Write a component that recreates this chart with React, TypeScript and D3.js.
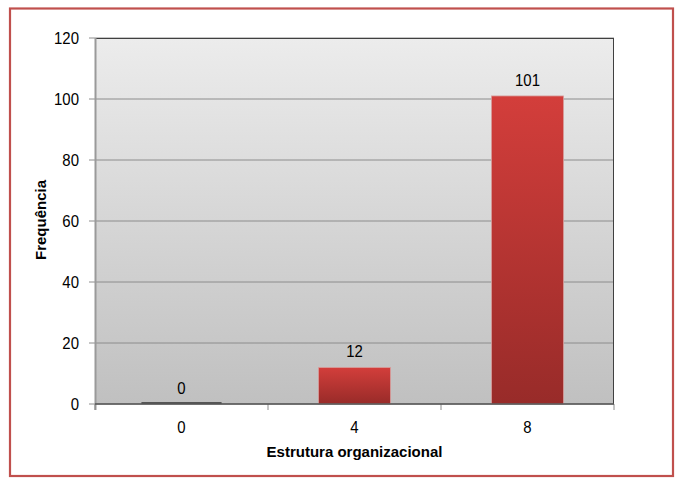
import React from "react";
import * as d3 from "d3";

const categories = ["0", "4", "8"];
const values = [0, 12, 101];
const yTicks = [0, 20, 40, 60, 80, 100, 120];
const xTitle = "Estrutura organizacional";
const yTitle = "Frequência";

const W = 676, H = 479;
const M = { left: 95, right: 62, top: 38, bottom: 75 };
const FONT = "'Liberation Sans', Arial, sans-serif";

function NText({ x, y, anchor, children }: { x: number; y: number; anchor: string; children: React.ReactNode }) {
  return (
    <g transform={`translate(${x},${y}) scale(0.88,1)`}>
      <text x={0} y={0} textAnchor={anchor} fontSize={17} fill="#000">{children}</text>
    </g>
  );
}

export default function App() {
  const x = d3.scaleBand<string>().domain(categories).range([M.left, W - M.right]).paddingInner(0.583).paddingOuter(0.2915);
  const y = d3.scaleLinear().domain([0, 120]).range([H - M.bottom, M.top]);
  const x0 = M.left, x1 = W - M.right, y0 = y(0), y1 = y(120);
  const step = x.step();
  const bounds = [x0, ...categories.map((_, i) => x0 + step * (i + 1))];
  return (
    <svg width={W} height={H} style={{ position: "absolute", left: 0, top: 0, fontFamily: FONT }}>
      <defs>
        <linearGradient id="bg" x1="0" y1="0" x2="0" y2="1">
          <stop offset="0" stopColor="#ececec" />
          <stop offset="1" stopColor="#c0c0c0" />
        </linearGradient>
        <linearGradient id="bar" x1="0" y1="0" x2="0" y2="1">
          <stop offset="0" stopColor="#d33e3b" />
          <stop offset="1" stopColor="#982b29" />
        </linearGradient>
      </defs>
      <rect x={0} y={0} width={W} height={H} fill="#fff" />
      <rect x={10} y={8.5} width={663} height={467.5} fill="#fff" stroke="#c0504d" strokeWidth={2.2} />
      <rect x={x0} y={y1} width={x1 - x0} height={y0 - y1} fill="url(#bg)" />
      {yTicks.map((t) => (
        <g key={t}>
          <line x1={x0 - 6} x2={x1} y1={y(t)} y2={y(t)} stroke="#8c8c8c" strokeWidth={1} />
          <NText x={79} y={y(t) + 6} anchor="end">{t}</NText>
        </g>
      ))}
      <line x1={x0} x2={x1} y1={y1 + 0.5} y2={y1 + 0.5} stroke="#404040" strokeWidth={1} />
      <line x1={x1 - 0.5} x2={x1 - 0.5} y1={y1} y2={y0} stroke="#404040" strokeWidth={1} />
      <line x1={x0 + 0.5} x2={x0 + 0.5} y1={y1} y2={y0 + 6} stroke="#9a9a9a" strokeWidth={2} />
      {bounds.map((b, i) => (
        <line key={i} x1={b} x2={b} y1={y0} y2={y0 + 6} stroke="#8c8c8c" strokeWidth={1} />
      ))}
      {categories.map((c, i) => {
        const v = values[i];
        const bx = x(c)!;
        const by = y(v);
        const bh = y0 - by;
        return (
          <g key={c}>
            {bh > 0 ? (
              <rect x={bx} y={by} width={x.bandwidth()} height={bh} fill="url(#bar)" stroke="#d7a09f" strokeWidth={0.8} />
            ) : null}
            <NText x={bx + x.bandwidth() / 2} y={by - 10} anchor="middle">{v}</NText>
            <NText x={bx + x.bandwidth() / 2} y={433} anchor="middle">{c}</NText>
          </g>
        );
      })}
      <line x1={x0} x2={x1} y1={y0} y2={y0} stroke="#555" strokeWidth={1.5} />
      <line x1={x(categories[0])! - 4} x2={x(categories[0])! + x.bandwidth() + 4} y1={y0 - 1} y2={y0 - 1} stroke="#555" strokeWidth={2} />
      <text x={(x0 + x1) / 2} y={457} textAnchor="middle" fontSize={15} fontWeight="bold" fill="#000">{xTitle}</text>
      <text transform={`translate(46, 220) rotate(-90)`} textAnchor="middle" fontSize={15} fontWeight="bold" fill="#000">{yTitle}</text>
    </svg>
  );
}
